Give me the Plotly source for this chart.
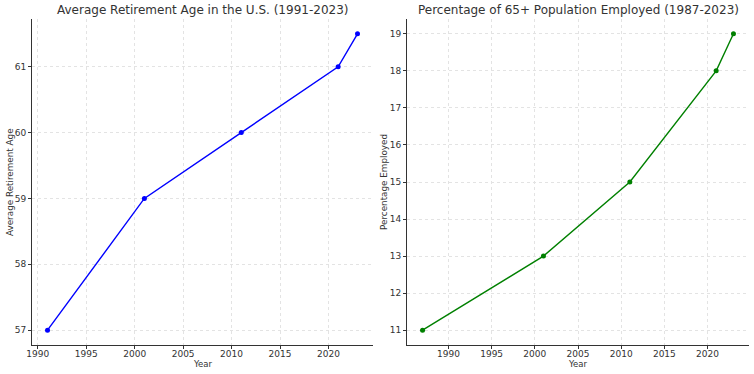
import plotly.graph_objects as go

# Data
ret_years = [1991, 2001, 2011, 2021, 2023]
ret_age = [57, 59, 60, 61, 61.5]
emp_years = [1987, 2001, 2011, 2021, 2023]
emp_pct = [11, 13, 15, 18, 19]
x_ticks = [1990, 1995, 2000, 2005, 2010, 2015, 2020]
ret_ticks = [57, 58, 59, 60, 61]
emp_ticks = [11, 12, 13, 14, 15, 16, 17, 18, 19]

W, H = 754, 374
FONT = "DejaVu Sans"
TXT = "#333333"

fig = go.Figure()
fig.add_trace(go.Scatter(x=ret_years, y=ret_age, mode="lines+markers",
                         line=dict(color="#0000ff", width=1.4),
                         marker=dict(color="#0000ff", size=5),
                         xaxis="x", yaxis="y", showlegend=False))
fig.add_trace(go.Scatter(x=emp_years, y=emp_pct, mode="lines+markers",
                         line=dict(color="#008000", width=1.4),
                         marker=dict(color="#008000", size=5),
                         xaxis="x2", yaxis="y2", showlegend=False))

def pad(lo, hi):
    m = (hi - lo) * 0.05
    return [lo - m, hi + m]

axis_common = dict(showline=True, linecolor="#333333", linewidth=1,
                   ticks="outside", ticklen=3, tickcolor="#333333",
                   showgrid=True, gridcolor="#e3e3e3", griddash="dot", gridwidth=0.8,
                   zeroline=False, tickfont=dict(family=FONT, size=9, color=TXT),
                   mirror=False, automargin=False)

y_dom = [1 - 345 / H, 1 - 19 / H]
fig.update_layout(
    width=W, height=H,
    margin=dict(l=0, r=0, t=0, b=0, autoexpand=False),
    paper_bgcolor="white", plot_bgcolor="white",
    font=dict(family=FONT, color=TXT),
    xaxis=dict(domain=[32 / W, 373 / W], range=pad(1991, 2023),
               tickvals=x_ticks, anchor="y", ticklabelstandoff=-3, **axis_common),
    yaxis=dict(domain=y_dom, range=pad(57, 61.5), tickvals=ret_ticks,
               anchor="x", **axis_common),
    xaxis2=dict(domain=[407 / W, 749 / W], range=pad(1987, 2023),
                tickvals=x_ticks, anchor="y2", ticklabelstandoff=-3, **axis_common),
    yaxis2=dict(domain=y_dom, range=pad(11, 19), tickvals=emp_ticks,
                anchor="x2", **axis_common),
)

ann = [
    dict(text="Average Retirement Age in the U.S. (1991-2023)", x=202.5 / W, y=1 - 10 / H,
         font=dict(size=12)),
    dict(text="Percentage of 65+ Population Employed (1987-2023)", x=578 / W, y=1 - 10 / H,
         font=dict(size=12)),
    dict(text="Year", x=202.5 / W, y=1 - 364 / H, font=dict(size=8.5)),
    dict(text="Year", x=578 / W, y=1 - 364 / H, font=dict(size=8.5)),
    dict(text="Average Retirement Age", x=10 / W, y=1 - 182 / H, textangle=-90, font=dict(size=8.8)),
    dict(text="Percentage Employed", x=384 / W, y=1 - 182 / H, textangle=-90, font=dict(size=8.8)),
]
for a in ann:
    a.update(xref="paper", yref="paper", showarrow=False, xanchor="center", yanchor="middle")
    a["font"].update(family=FONT, color=TXT)
fig.update_layout(annotations=ann)

fig.write_html("out.html", config={"displayModeBar": False},
               post_script="document.body.style.margin='0';document.body.style.overflow='hidden';")
